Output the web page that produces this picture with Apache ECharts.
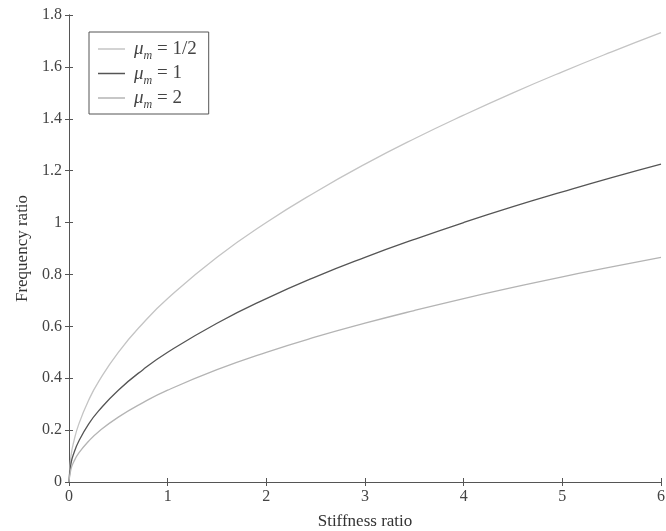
<!DOCTYPE html>
<html><head><meta charset="utf-8">
<script src="https://cdn.jsdelivr.net/npm/echarts@6/dist/echarts.min.js"></script>
<style>html,body{margin:0;padding:0;background:#fff}#c{width:666px;height:531px}</style>
</head><body><div id="c"></div>
<script>
const xs = [0, 0.02, 0.05, 0.1, 0.2, 0.3, 0.5, 0.75, 1, 1.5, 2, 2.5, 3, 3.5, 4, 4.5, 5, 5.5, 6];
const muHalf = [0, 0.1, 0.158, 0.224, 0.316, 0.387, 0.5, 0.612, 0.707, 0.866, 1.0, 1.118, 1.225, 1.323, 1.414, 1.5, 1.581, 1.658, 1.732];
const muOne = [0, 0.071, 0.112, 0.158, 0.224, 0.274, 0.354, 0.433, 0.5, 0.612, 0.707, 0.791, 0.866, 0.935, 1.0, 1.061, 1.118, 1.173, 1.225];
const muTwo = [0, 0.05, 0.079, 0.112, 0.158, 0.194, 0.25, 0.306, 0.354, 0.433, 0.5, 0.559, 0.612, 0.661, 0.707, 0.75, 0.791, 0.829, 0.866];
const seriesNames = ['1/2', '1', '2'];
const seriesColors = ['#c4c4c4', '#555555', '#b4b4b4'];

const font = 'Liberation Serif';
const pair = a => xs.map((x, i) => [x, a[i]]);
const axisCommon = {
  axisLine: {show: true, lineStyle: {color: '#555', width: 1}},
  axisTick: {show: true, inside: true, length: 4, lineStyle: {color: '#555'}},
  splitLine: {show: false}
};
const chart = echarts.init(document.getElementById('c'), null, {renderer: 'canvas'});
chart.setOption({
  backgroundColor: '#fff',
  animation: false,
  textStyle: {fontFamily: font},
  grid: {left: 69, right: 5, top: 15, bottom: 49, outerBoundsMode: 'none', containLabel: false},
  legend: {
    show: true, orient: 'vertical', left: 89, top: 32,
    data: seriesNames,
    icon: 'rect',
    borderColor: '#555', borderWidth: 1, backgroundColor: '#fff', borderRadius: 0,
    padding: [4, 12, 3, 9], itemGap: -1.5, itemWidth: 27, itemHeight: 1.5,
    formatter: n => '{mu|μ}{sub|m}{t| = ' + n + '}',
    textStyle: {
      fontFamily: font, color: '#444', padding: [0, 0, 0, 4],
      rich: {
        mu: {fontFamily: font, fontStyle: 'italic', fontSize: 19, color: '#444', lineHeight: 24, verticalAlign: 'middle'},
        sub: {fontFamily: font, fontStyle: 'italic', fontSize: 12, color: '#444', lineHeight: 24, padding: [14, 0, 0, 0], verticalAlign: 'middle'},
        t: {fontFamily: font, fontSize: 19, color: '#444', lineHeight: 24, verticalAlign: 'middle'}
      }
    }
  },
  xAxis: [
    Object.assign({type: 'value', min: 0, max: 6, interval: 1, position: 'bottom',
      name: 'Stiffness ratio', nameLocation: 'middle', nameGap: 31,
      nameTextStyle: {fontFamily: font, fontSize: 17, color: '#333'},
      axisLabel: {fontFamily: font, fontSize: 16, color: '#444', margin: 7}}, axisCommon),
    Object.assign({type: 'value', min: 0, max: 6, interval: 1, position: 'top',
      axisLabel: {show: false}}, axisCommon)
  ],
  yAxis: [
    Object.assign({type: 'value', min: 0, max: 1.8, interval: 0.2, position: 'left',
      name: 'Frequency ratio', nameLocation: 'middle', nameGap: 38,
      nameTextStyle: {fontFamily: font, fontSize: 17, color: '#333'},
      axisLabel: {fontFamily: font, fontSize: 16, color: '#444', margin: 7}}, axisCommon),
    Object.assign({type: 'value', min: 0, max: 1.8, interval: 0.2, position: 'right',
      axisLabel: {show: false}}, axisCommon)
  ],
  series: [muHalf, muOne, muTwo].map((arr, i) => ({
    name: seriesNames[i], type: 'line', smooth: true, showSymbol: false, symbol: 'none',
    data: pair(arr), color: seriesColors[i],
    lineStyle: {color: seriesColors[i], width: 1.3}
  }))
});
</script></body></html>
